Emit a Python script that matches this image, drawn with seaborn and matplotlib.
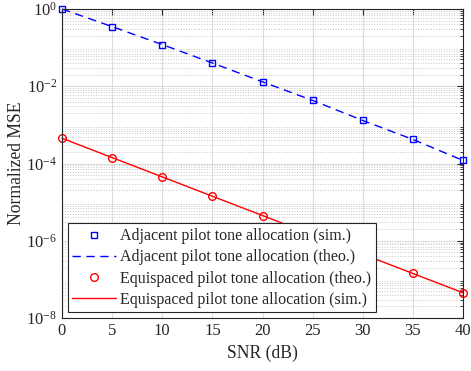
import numpy as np
import pandas as pd
import matplotlib
matplotlib.use("Agg")
import matplotlib.pyplot as plt
import seaborn as sns
from matplotlib.ticker import LogLocator, NullFormatter

# Dados
snr = [0, 5, 10, 15, 20, 25, 30, 35, 40]
mse_adjacent = [1.0, 0.35, 0.12, 0.040, 0.013, 0.0043, 0.0013, 0.00042, 0.00012]
mse_equispaced = [4.5e-4, 1.42e-4, 4.5e-5, 1.42e-5, 4.5e-6, 1.42e-6, 4.5e-7, 1.42e-7, 4.5e-8]

labels = ['Adjacent pilot tone allocation (sim.)',
          'Adjacent pilot tone allocation (theo.)',
          'Equispaced pilot tone allocation (theo.)',
          'Equispaced pilot tone allocation (sim.)']

df = pd.DataFrame({'snr': snr, 'adj': mse_adjacent, 'equi': mse_equispaced})

sns.set_style('white')
plt.rcParams['font.family'] = ['Liberation Serif', 'DejaVu Serif']
plt.rcParams['mathtext.fontset'] = 'custom'
plt.rcParams['mathtext.rm'] = 'Liberation Serif'
plt.rcParams['mathtext.it'] = 'Liberation Serif:italic'

fig = plt.figure(figsize=(4.71, 3.71), dpi=100)
ax = fig.add_axes([62 / 471, 1 - 318 / 371, (463 - 62) / 471, (318 - 9) / 371])

blue = '#0000ff'
red = '#ff0000'

sns.lineplot(data=df, x='snr', y='adj', ax=ax, color=blue, marker='s', markersize=5,
             markerfacecolor='none', markeredgecolor=blue, markeredgewidth=1.0,
             linestyle='none', label=labels[0])
sns.lineplot(data=df, x='snr', y='adj', ax=ax, color=blue, linewidth=1.0,
             dashes=(6, 4), label=labels[1])
sns.lineplot(data=df, x='snr', y='equi', ax=ax, color=red, marker='o', markersize=5.5,
             markerfacecolor='none', markeredgecolor=red, markeredgewidth=1.0,
             linestyle='none', label=labels[2])
sns.lineplot(data=df, x='snr', y='equi', ax=ax, color=red, linewidth=1.0, label=labels[3])

ax.set_yscale('log')
ax.set_xlim(0, 40)
ax.set_ylim(1e-8, 1.0)
ax.set_xticks(range(0, 41, 5))
ax.set_yticks([1e-8, 1e-6, 1e-4, 1e-2, 1e0])
ax.set_yticklabels([r'$\mathregular{10^{-8}}$', r'$\mathregular{10^{-6}}$',
                    r'$\mathregular{10^{-4}}$', r'$\mathregular{10^{-2}}$',
                    r'$\mathregular{10^{0}}$'])
ax.yaxis.set_minor_locator(LogLocator(base=10, subs=np.arange(2, 10), numticks=20))
ax.yaxis.set_minor_formatter(NullFormatter())

ax.grid(which='major', color='#dcdcdc', linewidth=0.8, linestyle='-')
ax.grid(which='minor', axis='y', color='#c8c8c8', linewidth=0.7, linestyle=':')
ax.set_axisbelow(True)

ax.tick_params(which='both', direction='in', top=True, right=True, labelsize=12,
               colors='#262626')
ax.tick_params(which='major', length=4, width=0.8)
ax.tick_params(which='minor', length=2, width=0.6)
for s in ax.spines.values():
    s.set_color('#262626')
    s.set_linewidth(0.8)
for line in ax.lines:
    line.set_clip_on(False)

ax.set_xlabel('SNR (dB)', fontsize=12.7, color='#262626')
ax.set_ylabel('Normalized MSE', fontsize=12.7, color='#262626', labelpad=1)

leg = ax.legend(loc='lower left', fontsize=11.5, frameon=True, fancybox=False,
                edgecolor='#262626', framealpha=1, borderpad=0.3, labelspacing=0.32,
                handlelength=2.7, handletextpad=0.3, borderaxespad=0.35)
leg.get_frame().set_linewidth(0.8)

fig.savefig('out.png', dpi=100)
